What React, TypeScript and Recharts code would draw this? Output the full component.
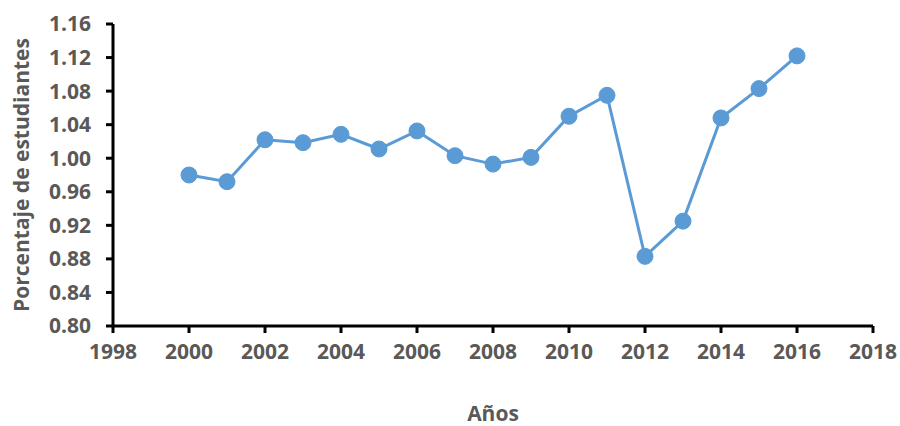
import { LineChart, Line, XAxis, YAxis } from 'recharts'

const YEARS = [2000, 2001, 2002, 2003, 2004, 2005, 2006, 2007, 2008, 2009, 2010, 2011, 2012, 2013, 2014, 2015, 2016]
const VALUES = [0.98, 0.972, 1.022, 1.0185, 1.0285, 1.011, 1.0325, 1.003, 0.993, 1.001, 1.05, 1.075, 0.883, 0.925, 1.048, 1.083, 1.122]
const X_TICKS = [1998, 2000, 2002, 2004, 2006, 2008, 2010, 2012, 2014, 2016, 2018]
const Y_TICKS = [0.8, 0.84, 0.88, 0.92, 0.96, 1.0, 1.04, 1.08, 1.12, 1.16]

const data = YEARS.map((year, i) => ({ year, value: VALUES[i] }))

const FONT = '"Open Sans", sans-serif'
const TEXT = '#595959'
const tickStyle = { fill: TEXT, fontSize: 21, fontWeight: 700, fontFamily: FONT }
const axisLine = { stroke: '#000', strokeWidth: 3 }

export default function App() {
  return (
    <div style={{ position: 'absolute', left: 0, top: 0, width: 900, height: 426, background: '#fff' }}>
      <LineChart width={900} height={426} data={data} margin={{ top: 24, right: 27, bottom: 0, left: 0 }}>
        <XAxis
          dataKey="year"
          type="number"
          domain={[1998, 2018]}
          ticks={X_TICKS}
          interval={0}
          height={100}
          axisLine={axisLine}
          tickLine={axisLine}
          tickSize={7}
          tickMargin={11}
          tick={tickStyle}
          label={{
            content: ({ viewBox }: any) => (
              <text
                x={viewBox.x + viewBox.width / 2}
                y={421}
                textAnchor="middle"
                style={{ fill: TEXT, fontSize: 21, fontWeight: 700, fontFamily: FONT }}
              >
                Años
              </text>
            ),
          }}
        />
        <YAxis
          type="number"
          domain={[0.8, 1.16]}
          ticks={Y_TICKS}
          interval={0}
          width={113}
          axisLine={axisLine}
          tickLine={axisLine}
          tickSize={7}
          tickMargin={15}
          tick={tickStyle}
          tickFormatter={(v: number) => v.toFixed(2)}
          label={{
            content: ({ viewBox }: any) => {
              const cx = 21
              const cy = viewBox.y + viewBox.height / 2
              return (
                <text
                  x={cx}
                  y={cy}
                  transform={`rotate(-90, ${cx}, ${cy})`}
                  textAnchor="middle"
                  dominantBaseline="central"
                  style={{ fill: TEXT, fontSize: 21, fontWeight: 700, fontFamily: FONT }}
                >
                  Porcentaje de estudiantes
                </text>
              )
            },
          }}
        />
        <Line
          type="linear"
          dataKey="value"
          stroke="#5B9BD5"
          strokeWidth={3}
          dot={{ r: 8, fill: '#5B9BD5', stroke: '#5B9BD5', strokeWidth: 1 }}
          isAnimationActive={false}
        />
      </LineChart>
    </div>
  )
}
